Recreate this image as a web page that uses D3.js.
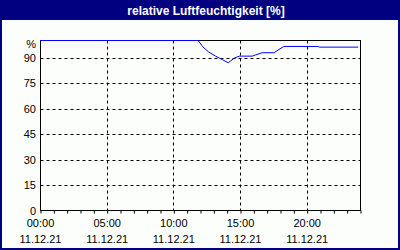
<!DOCTYPE html>
<html><head><meta charset="utf-8">
<script src="https://cdn.jsdelivr.net/npm/d3@7"></script>
<style>html,body{margin:0;padding:0;background:#fff}svg{display:block}</style>
</head><body>
<svg id="c" width="400" height="250"></svg>
<script>
const title = "relative Luftfeuchtigkeit [%]";
const hours = [0, 11.83, 12.17, 12.62, 13.13, 13.63, 14.08, 14.57, 14.93, 15.88, 16.13, 16.63, 17.5, 18.25, 20.83, 20.9, 23.83];
const humidity = [100, 100, 96.3, 93.2, 90.8, 88.8, 86.9, 89.8, 90.8, 90.8, 91.5, 92.8, 92.8, 96.5, 96.5, 96.1, 96.1];
const yTicks = [0, 15, 30, 45, 60, 75, 90];
const yTopLabel = "%";
const xTicks = [0, 5, 10, 15, 20];
const xTimeLabels = ["00:00", "05:00", "10:00", "15:00", "20:00"];
const xDateLabel = "11.12.21";

const svg = d3.select("#c");
const W = 400, H = 250;
const navy = "#000080";
const font = "Liberation Sans, Arial, sans-serif";

svg.append("rect").attr("x",0).attr("y",0).attr("width",W).attr("height",H).attr("fill","#fbfefb");
svg.append("rect").attr("x",1).attr("y",1).attr("width",W-2).attr("height",H-2).attr("fill","none").attr("stroke",navy).attr("stroke-width",2);
svg.append("rect").attr("x",0).attr("y",0).attr("width",W).attr("height",20).attr("fill",navy);
svg.append("text").attr("x",W/2+6).attr("y",14.5).attr("text-anchor","middle").attr("fill","#fff")
  .attr("font-family",font).attr("font-weight","bold").attr("font-size",12).text(title);

const x = d3.scaleLinear().domain([0,24]).range([40.5,360.5]);
const y = d3.scaleLinear().domain([0,100]).range([210.5,40.5]);

const g = svg.append("g");
// grid
g.selectAll(".hg").data(yTicks.filter(d=>d>0)).join("line")
  .attr("x1",x(0)).attr("x2",x(24)).attr("y1",d=>Math.round(y(d))+0.5).attr("y2",d=>Math.round(y(d))+0.5)
  .attr("stroke","#000").attr("stroke-dasharray","3,3");
g.selectAll(".vg").data(xTicks.filter(d=>d>0)).join("line")
  .attr("x1",d=>Math.round(x(d)-0.5)+0.5).attr("x2",d=>Math.round(x(d)-0.5)+0.5).attr("y1",y(100)).attr("y2",y(0))
  .attr("stroke","#000").attr("stroke-dasharray","3,3");

// x axis minor ticks every hour
const xAxis = d3.axisBottom(x).tickValues(d3.range(0,25)).tickSize(3).tickFormat("");
const xa = svg.append("g").attr("transform",`translate(0,${y(0)})`).call(xAxis);
xa.select(".domain").remove();
xa.selectAll("line").attr("stroke","#000");

// frame
svg.append("rect").attr("x",x(0)).attr("y",y(100)).attr("width",x(24)-x(0)).attr("height",y(0)-y(100))
  .attr("fill","none").attr("stroke","#000");

// line
const line = d3.line().x((d,i)=>x(hours[i])).y(d=>y(d));
svg.append("path").datum(humidity).attr("d",line).attr("fill","none").attr("stroke","#0000ff").attr("stroke-width",1);

// y labels
svg.selectAll(".yl").data(yTicks).join("text")
  .attr("x",36).attr("y",d=>y(d)+4).attr("text-anchor","end").attr("font-family",font).attr("font-size",11).attr("fill","#000").text(d=>d);
svg.append("text").attr("x",36).attr("y",y(100)+7).attr("text-anchor","end").attr("font-family",font).attr("font-size",11).text(yTopLabel);

// x labels
svg.selectAll(".xl").data(xTicks).join("text")
  .attr("x",d=>x(d)).attr("y",227).attr("text-anchor","middle").attr("font-family",font).attr("font-size",11).text((d,i)=>xTimeLabels[i]);
svg.selectAll(".xd").data(xTicks).join("text")
  .attr("x",d=>x(d)).attr("y",243).attr("text-anchor","middle").attr("font-family",font).attr("font-size",11).text(xDateLabel);
</script>
</body></html>
